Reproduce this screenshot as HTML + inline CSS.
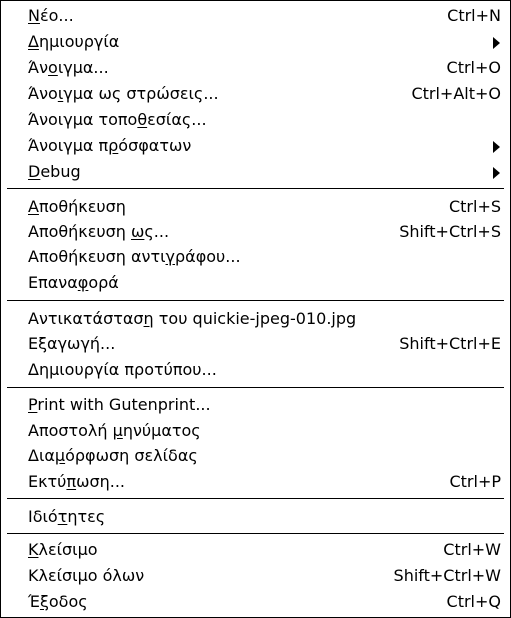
<!DOCTYPE html>
<html><head><meta charset="utf-8"><style>
html,body{margin:0;padding:0;background:#fff}
#m{position:relative;width:509px;height:616px;border:1px solid #000;background:#fff;overflow:hidden;font-family:"DejaVu Sans","Liberation Sans",sans-serif;font-size:16px;color:#000}
.r{position:absolute;left:27px;height:20px;line-height:20px;white-space:nowrap}
.k{position:absolute;right:9px;height:20px;line-height:20px;white-space:nowrap;text-align:right}
.a{position:absolute;right:10px;width:0;height:0;border-top:6px solid transparent;border-bottom:6px solid transparent;border-left:7px solid #000}
.s{position:absolute;left:6px;right:6px;height:1px;background:#000}
u{text-decoration:underline;text-underline-offset:2px}
</style></head><body><div id="m">
<div class="r" style="top:5px"><u>Ν</u>έο...</div><div class="k" style="top:5px">Ctrl+N</div>
<div class="r" style="top:31px"><u>Δ</u>ημιουργία</div><div class="a" style="top:36px"></div>
<div class="r" style="top:57px">Άν<u>ο</u>ιγμα...</div><div class="k" style="top:57px">Ctrl+O</div>
<div class="r" style="top:83px">Άνο<u>ι</u>γμα ως στρώσεις...</div><div class="k" style="top:83px">Ctrl+Alt+O</div>
<div class="r" style="top:109px">Άνοιγμα τοπο<u>θ</u>εσίας...</div>
<div class="r" style="top:135px">Άνοιγμα π<u>ρ</u>όσφατων</div><div class="a" style="top:140px"></div>
<div class="r" style="top:161px"><u>D</u>ebug</div><div class="a" style="top:166px"></div>
<div class="s" style="top:187px"></div>
<div class="r" style="top:196px"><u>Α</u>ποθήκευση</div><div class="k" style="top:196px">Ctrl+S</div>
<div class="r" style="top:221px">Αποθήκευση <u>ω</u>ς...</div><div class="k" style="top:221px">Shift+Ctrl+S</div>
<div class="r" style="top:246px">Αποθήκευση αντι<u>γ</u>ράφου...</div>
<div class="r" style="top:272px">Επανα<u>φ</u>ορά</div>
<div class="s" style="top:299px"></div>
<div class="r" style="top:308px">Αντικατάστασ<u>η</u> του quickie-jpeg-010.jpg</div>
<div class="r" style="top:333px">Εξαγωγή...</div><div class="k" style="top:333px">Shift+Ctrl+E</div>
<div class="r" style="top:359px">Δημιουργία προτύπου...</div>
<div class="s" style="top:386px"></div>
<div class="r" style="top:394px"><u>P</u>rint with Gutenprint...</div>
<div class="r" style="top:420px">Αποστολή <u>μ</u>ηνύματος</div>
<div class="r" style="top:445px">Δια<u>μ</u>όρφωση σελίδας</div>
<div class="r" style="top:471px">Εκτύ<u>π</u>ωση...</div><div class="k" style="top:471px">Ctrl+P</div>
<div class="s" style="top:497px"></div>
<div class="r" style="top:506px">Ιδιό<u>τ</u>ητες</div>
<div class="s" style="top:532px"></div>
<div class="r" style="top:539px"><u>Κ</u>λείσιμο</div><div class="k" style="top:539px">Ctrl+W</div>
<div class="r" style="top:565px">Κλείσιμο όλων</div><div class="k" style="top:565px">Shift+Ctrl+W</div>
<div class="r" style="top:591px">Έ<u>ξ</u>οδος</div><div class="k" style="top:591px">Ctrl+Q</div>
</div></body></html>
